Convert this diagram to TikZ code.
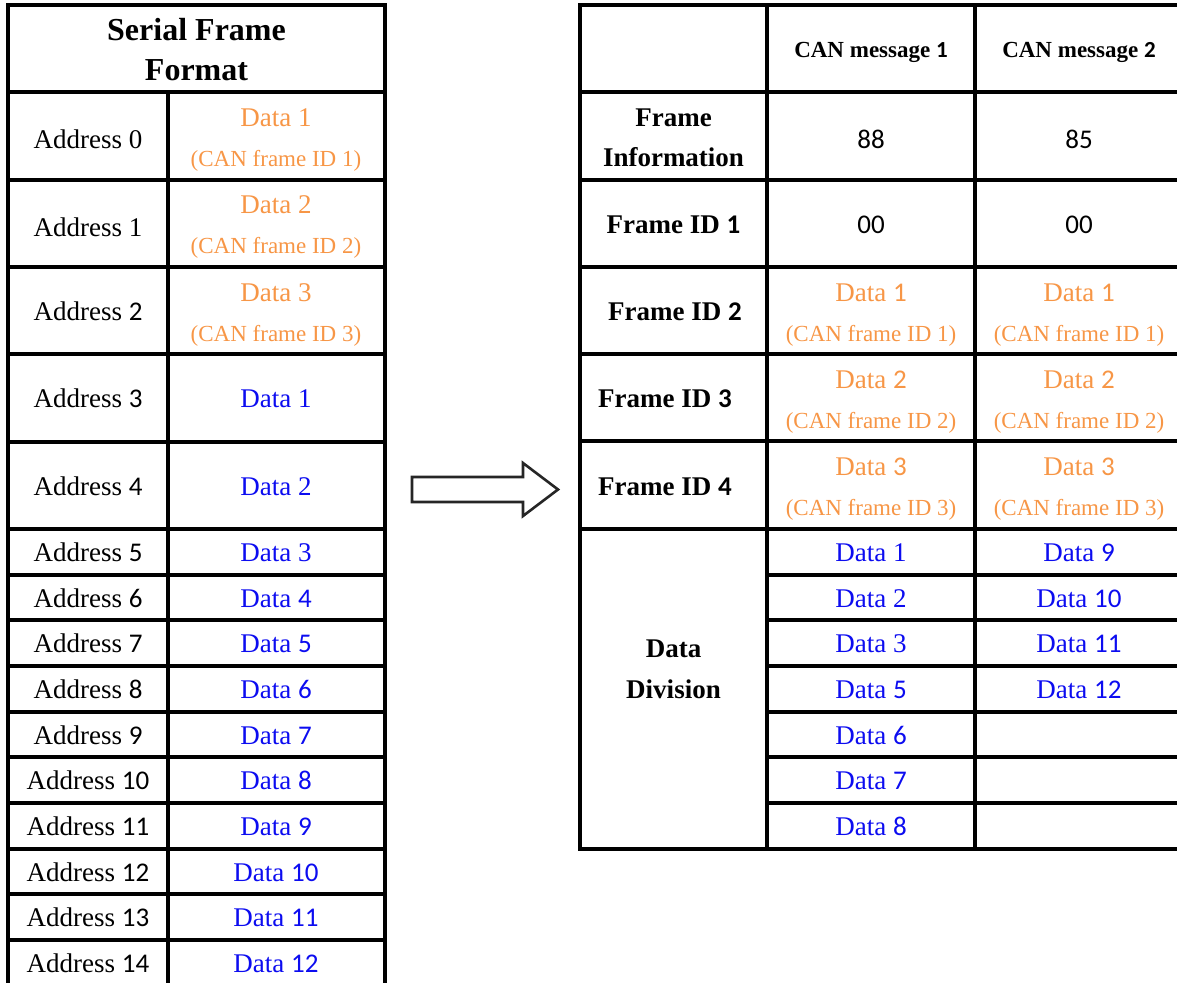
\documentclass[tikz,border=0pt]{standalone}
\usepackage{fontspec}
\setmainfont{Liberation Serif}
\newfontfamily\carl{Carlito}
\newcommand\cd[1]{{\carl #1}}
\definecolor{orng}{RGB}{247,150,70}
\definecolor{dblue}{RGB}{12,12,240}
\begin{document}
\begin{tikzpicture}[x=1pt,y=-1pt,
  gridline/.style={line width=3.6pt, black},
  base/.style={anchor=base, inner sep=0pt},
  lab/.style={base, font=\fontsize{27}{30}\selectfont},
  hdr/.style={base, font=\fontsize{32}{36}\selectfont\bfseries},
  ora/.style={base, text=orng, font=\fontsize{27}{30}\selectfont},
  orasm/.style={base, text=orng, font=\fontsize{23}{26}\selectfont},
  blu/.style={base, text=dblue, font=\fontsize{27}{30}\selectfont},
  bhd/.style={base, font=\fontsize{23}{26}\selectfont\bfseries},
  blab/.style={base, font=\fontsize{27}{30}\selectfont\bfseries},
  bigarrow/.style={line width=2.6pt, black!85, line join=miter, fill=white}]
\useasboundingbox (0,0) rectangle (1177,982);

% ---------- left table grid ----------
\draw[gridline] (8,5) rectangle (385,990);
\foreach \yy in {92,180,267,354,442,529,575,620,666,712,757,803,849,894,940}
  \draw[gridline] (8,\yy) -- (385,\yy);
\draw[gridline] (168,92) -- (168,990);

% ---------- left table text ----------
\node[hdr] (h1) at (196.5,41) {Serial Frame};
\node[hdr] (h2) at (196.5,81) {Format};

\node[lab] (a0) at (88,148) {Address 0};
\node[ora] (d0a) at (276,126) {Data 1};
\node[orasm] (d0b) at (276,166) {(CAN frame ID 1)};
\node[lab] (a1) at (88,236) {Address 1};
\node[ora] (d1a) at (276,213) {Data 2};
\node[orasm] (d1b) at (276,253) {(CAN frame ID 2)};
\node[lab] (a2) at (88,320) {Address \cd{2}};
\node[ora] (d2a) at (276,301) {Data 3};
\node[orasm] (d2b) at (276,341) {(CAN frame ID 3)};
\node[lab] (a3) at (88,407) {Address \cd{3}};
\node[blu] (d3) at (276,407) {Data 1};
\node[lab] (a4) at (88,495) {Address \cd{4}};
\node[blu] (d4) at (276,495) {Data 2};
\node[lab] (a5) at (88,561) {Address \cd{5}};
\node[blu] (d5) at (276,561) {Data 3};
\node[lab] (a6) at (88,607) {Address \cd{6}};
\node[blu] (d6) at (276,607) {Data \cd{4}};
\node[lab] (a7) at (88,652) {Address \cd{7}};
\node[blu] (d7) at (276,652) {Data \cd{5}};
\node[lab] (a8) at (88,698) {Address \cd{8}};
\node[blu] (d8) at (276,698) {Data \cd{6}};
\node[lab] (a9) at (88,744) {Address \cd{9}};
\node[blu] (d9) at (276,744) {Data \cd{7}};
\node[lab] (a10) at (88,789) {Address \cd{10}};
\node[blu] (d10) at (276,789) {Data \cd{8}};
\node[lab] (a11) at (88,835) {Address \cd{11}};
\node[blu] (d11) at (276,835) {Data \cd{9}};
\node[lab] (a12) at (88,881) {Address \cd{12}};
\node[blu] (d12) at (276,881) {Data \cd{10}};
\node[lab] (a13) at (88,926) {Address \cd{13}};
\node[blu] (d13) at (276,926) {Data \cd{11}};
\node[lab] (a14) at (88,972) {Address \cd{14}};
\node[blu] (d14) at (276,972) {Data \cd{12}};

% ---------- arrow ----------
\draw[bigarrow] (412,477) -- (523,477) -- (523,463) -- (558,489.5)
  -- (523,516) -- (523,502) -- (412,502) -- cycle;

% ---------- right table grid ----------
\draw[gridline] (580,5) rectangle (1190,849);
\foreach \yy in {92,180,267,354,441,529}
  \draw[gridline] (580,\yy) -- (1190,\yy);
\foreach \yy in {575,620,666,712,757,803}
  \draw[gridline] (767,\yy) -- (1190,\yy);
\draw[gridline] (767,5) -- (767,849);
\draw[gridline] (975,5) -- (975,849);

% ---------- right table text ----------
\node[bhd] (m1) at (871,58) {CAN message \cd{1}};
\node[bhd] (m2) at (1079,58) {CAN message \cd{2}};

\node[blab] (fi1) at (673.5,126) {Frame};
\node[blab] (fi2) at (673.5,166) {Information};
\node[lab] (v88) at (871,148) {\cd{88}};
\node[lab] (v85) at (1079,148) {\cd{85}};

\node[blab] (id1) at (673.5,233) {Frame ID \cd{1}};
\node[lab] (z1) at (871,233) {\cd{00}};
\node[lab] (z2) at (1079,233) {\cd{00}};

\node[blab] (id2) at (675,320) {Frame ID \cd{2}};
\node[ora] (r1a) at (871,301) {Data \cd{1}};
\node[orasm] (r1b) at (871,341) {(CAN frame ID 1)};
\node[ora] (s1a) at (1079,301) {Data \cd{1}};
\node[orasm] (s1b) at (1079,341) {(CAN frame ID 1)};

\node[blab] (id3) at (665,407) {Frame ID \cd{3}};
\node[ora] (r2a) at (871,388) {Data \cd{2}};
\node[orasm] (r2b) at (871,428) {(CAN frame ID 2)};
\node[ora] (s2a) at (1079,388) {Data \cd{2}};
\node[orasm] (s2b) at (1079,428) {(CAN frame ID 2)};

\node[blab] (id4) at (665,495) {Frame ID \cd{4}};
\node[ora] (r3a) at (871,475) {Data \cd{3}};
\node[orasm] (r3b) at (871,515) {(CAN frame ID 3)};
\node[ora] (s3a) at (1079,475) {Data \cd{3}};
\node[orasm] (s3b) at (1079,515) {(CAN frame ID 3)};

\node[blab] (dd1) at (673.5,657) {Data};
\node[blab] (dd2) at (673.5,698) {Division};

\node[blu] (c1) at (871,561) {Data 1};
\node[blu] (c2) at (871,607) {Data 2};
\node[blu] (c3) at (871,652) {Data 3};
\node[blu] (c5) at (871,698) {Data \cd{5}};
\node[blu] (c6) at (871,744) {Data \cd{6}};
\node[blu] (c7) at (871,789) {Data \cd{7}};
\node[blu] (c8) at (871,835) {Data \cd{8}};
\node[blu] (e9) at (1079,561) {Data \cd{9}};
\node[blu] (e10) at (1079,607) {Data \cd{10}};
\node[blu] (e11) at (1079,652) {Data \cd{11}};
\node[blu] (e12) at (1079,698) {Data \cd{12}};
\end{tikzpicture}
\end{document}
